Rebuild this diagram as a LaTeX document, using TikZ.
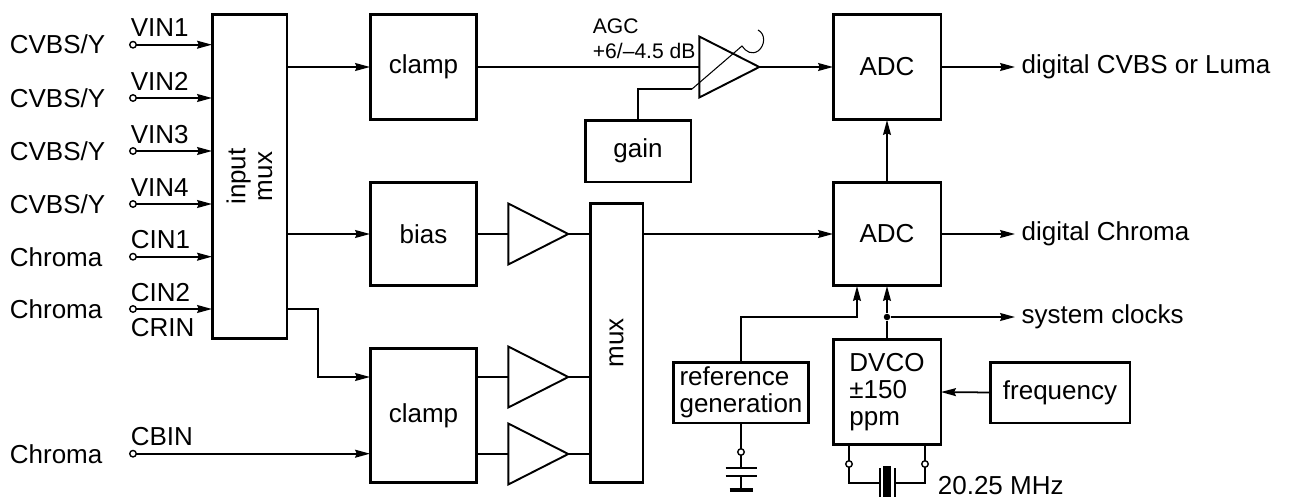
\documentclass[tikz,border=0pt]{standalone}
\usepackage{fontspec}
\setmainfont{Liberation Sans}
\usetikzlibrary{shapes.geometric}
\usetikzlibrary{arrows.meta}
\tikzset{
	block/.style = {draw, rectangle, line width=1.7pt, inner sep=0pt,
		outer sep=0pt, align=center},% signal block
	amp/.style = {draw, isosceles triangle, isosceles triangle stretches,
		line width=1.1pt, minimum width=1.22cm, minimum height=1.2cm,
		inner sep=0pt, outer sep=0pt},% amplifier
	term/.style = {circle, draw, fill=white, line width=0.8pt,
		minimum size=0.13cm, inner sep=0pt, outer sep=0pt},% pin
	lbl/.style = {anchor=base west, inner sep=0pt},% free text
	small/.style = {lbl, font=\fontsize{12}{14}\selectfont},% AGC text
	outlbl/.style = {anchor=west}% text behind an output arrow
}

\begin{document}
\begin{tikzpicture}[x=0.02cm, y=-0.02cm, line width=1pt,
		font=\fontsize{14.8}{15.3}\selectfont,
		>={Stealth[length=8.5pt,width=4.5pt,inset=1pt]}]
	\useasboundingbox (0,0) rectangle (1289,497);
	% blocks
	\node[block, minimum width=1.5cm, minimum height=6.5cm] (inmux) at (249.5,176.5) {};
	\node[rotate=90, align=center, inner sep=0pt] (inmuxtxt) at (inmux.center) {input\\mux};
	\node[block, minimum width=2.14cm, minimum height=2.12cm] (clampA) at (423.5,67) {clamp};
	\node[block, minimum width=2.14cm, minimum height=2.08cm] (bias) at (423.5,234) {bias};
	\node[block, minimum width=2.14cm, minimum height=2.7cm] (clampB) at (423.5,415.5) {clamp};
	\node[block, minimum width=2.12cm, minimum height=1.24cm] (gain) at (638,151) {gain};
	\node[block, minimum width=1.06cm, minimum height=5.6cm] (mux) at (616.5,343) {};
	\node[rotate=90, inner sep=0pt] (muxtxt) at (mux.center) {mux};
	\node[block, minimum width=2.16cm, minimum height=2.12cm] (adcA) at (887,67) {ADC};
	\node[block, minimum width=2.16cm, minimum height=2.08cm] (adcB) at (887,234) {ADC};
	\node[block, minimum width=2.16cm, minimum height=2.12cm, align=left] (dvco) at (887,392) {DVCO\\±150\\ppm};
	\node[block, minimum width=2.72cm, minimum height=1.22cm, align=left] (refgen) at (741,392.5) {reference\\generation};
	\node[block, minimum width=2.8cm, minimum height=1.22cm] (freq) at (1060,392.5) {frequency};
	% amplifiers
	\node[amp] (agc) at (718,67) {};
	\node[amp] (ampB) at (527,234) {};
	\node[amp] (ampC) at (527,377) {};
	\node[amp] (ampD) at (527,454) {};
	% inputs
	\node[term] (vin1) at (133,44.7) {};
	\node[term] (vin2) at (133,98) {};
	\node[term] (vin3) at (133,151) {};
	\node[term] (vin4) at (133,204) {};
	\node[term] (cin1) at (133,256.7) {};
	\node[term] (cin2) at (133,309) {};
	\node[term] (cbin) at (133,453.7) {};
	\node[lbl] (src1) at (9,53.7) {CVBS/Y};
	\node[lbl] (src2) at (9,107) {CVBS/Y};
	\node[lbl] (src3) at (9,160) {CVBS/Y};
	\node[lbl] (src4) at (9,213) {CVBS/Y};
	\node[lbl] (src5) at (9,266) {Chroma};
	\node[lbl] (src6) at (9,318.5) {Chroma};
	\node[lbl] (src7) at (9,463) {Chroma};
	\node[lbl] (pin1) at (130,36.7) {VIN1};
	\node[lbl] (pin2) at (130,90) {VIN2};
	\node[lbl] (pin3) at (130,143) {VIN3};
	\node[lbl] (pin4) at (130,196) {VIN4};
	\node[lbl] (pin5) at (130,248.7) {CIN1};
	\node[lbl] (pin6) at (130,301.5) {CIN2};
	\node[lbl] (pin7) at (130,336) {CRIN};
	\node[lbl] (pin8) at (130,445) {CBIN};
	\draw[->] (vin1) -- (vin1 -| inmux.west);
	\draw[->] (vin2) -- (vin2 -| inmux.west);
	\draw[->] (vin3) -- (vin3 -| inmux.west);
	\draw[->] (vin4) -- (vin4 -| inmux.west);
	\draw[->] (cin1) -- (cin1 -| inmux.west);
	\draw[->] (cin2) -- (cin2 -| inmux.west);
	\draw[->] (cbin) -- (cbin -| clampB.west);
	% input mux outputs
	\draw[->] (inmux.east |- clampA) -- (clampA.west);
	\draw[->] (inmux.east |- bias) -- (bias.west);
	\draw[->] (inmux.east |- cin2) -- ++(31,0) |- (clampB.west |- ampC);
	% luma path with AGC
	\node[small] (agc1) at (592,33) {AGC};
	\node[small] (agc2) at (592,58) {+6/–4.5 dB};
	\draw (clampA.east) -- (agc.west);
	\draw[->] (agc.apex) -- (adcA.west);
	\coordinate (g1) at (692,89);
	\coordinate (g2) at (742,46);
	\draw (gain.north) |- (g1);
	\draw[line width=0.6pt] (g1) -- (g2) .. controls (746,52) and (752,55) .. (758,51)
		.. controls (765,46) and (766,34) .. (758,30);
	% chroma path
	\draw (bias.east) -- (ampB.west);
	\draw (ampB.apex) -- (ampB.apex -| mux.west);
	\draw (clampB.east |- ampC) -- (ampC.west);
	\draw (ampC.apex) -- (ampC.apex -| mux.west);
	\draw (clampB.east |- ampD) -- (ampD.west);
	\draw (ampD.apex) -- (ampD.apex -| mux.west);
	\draw[->] (mux.east |- adcB) -- (adcB.west);
	% outputs
	\node[outlbl] (outY) at (1015,67) {digital CVBS or Luma};
	\node[outlbl] (outC) at (1015,234) {digital Chroma};
	\node[outlbl] (clk) at (1015,317) {system clocks};
	\draw[->] (adcA.east) -- (outY.west);
	\draw[->] (adcB.east) -- (outC.west);
	\draw[->] (adcB.north) -- (adcA.south);
	% clocks and reference
	\node[circle, fill, inner sep=0pt, minimum size=0.13cm] (jc) at (887,317) {};
	\coordinate (rc) at (857,317);
	\draw (dvco.north) -- (jc);
	\draw[->] (jc) -- (adcB.south);
	\draw[->] (jc) -- (clk.west);
	\draw[->] (refgen.north) |- (rc) -- (rc |- adcB.south);
	\draw[->] (freq.west) -- (dvco.east);
	% decoupling capacitor
	\node[term] (rgt) at (741,452) {};
	\coordinate (cp1) at (741,468);
	\coordinate (cp2) at (741,476);
	\coordinate (gnd) at (741,490);
	\draw (refgen.south) -- (rgt);
	\draw (rgt) -- (cp1);
	\draw[line width=1.1pt] (cp1) +(-15.5,0) -- +(15.5,0);
	\draw[line width=1.1pt] (cp2) +(-15.5,0) -- +(15.5,0);
	\draw (cp2) -- (gnd);
	\draw[line width=2pt] (gnd) +(-11.5,0) -- +(11.5,0);
	% crystal
	\node[term] (xa) at (849,464) {};
	\node[term] (xb) at (925,464) {};
	\coordinate (xl) at (880,483);
	\coordinate (xr) at (895,483);
	\draw (dvco.south -| xa) -- (xa);
	\draw (dvco.south -| xb) -- (xb);
	\draw (xa) |- (xl);
	\draw (xb) |- (xr);
	\draw[line width=1.2pt] (xl) +(0,-15) -- +(0,17);
	\draw[line width=1.2pt] (xr) +(0,-15) -- +(0,17);
	\fill (883,466) rectangle (891,500);
	\node[lbl] (xtal) at (937,494) {20.25 MHz};
\end{tikzpicture}
\end{document}
